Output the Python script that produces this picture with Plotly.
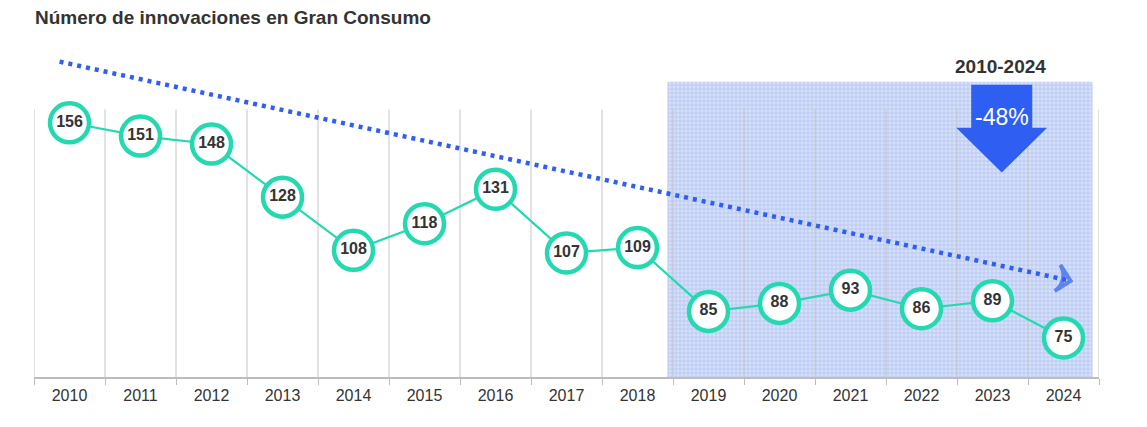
import plotly.graph_objects as go

# data
years = [2010, 2011, 2012, 2013, 2014, 2015, 2016, 2017, 2018, 2019, 2020, 2021, 2022, 2023, 2024]
innovations = [156, 151, 148, 128, 108, 118, 131, 107, 109, 85, 88, 93, 86, 89, 75]
trend_x = [2009.86, 2024.1]
trend_y = [179, 96.5]
change_label = "-48%"
period_label = "2010-2024"

teal = "#24d9af"
blue = "#2f5ff2"
font = "Liberation Sans, Arial, sans-serif"
y_min, y_grid_top = 60.3, 161

fig = go.Figure()

# shaded recent period (textured band)
shade_x0, shade_x1, shade_top = 2018.42, 2024.41, 171.4
fig.add_trace(go.Bar(
    x=[(shade_x0 + shade_x1) / 2], y=[shade_top - y_min], base=[y_min],
    width=[shade_x1 - shade_x0],
    marker=dict(color="#d0dbf8", line=dict(width=0),
                pattern=dict(shape="+", fgcolor="#98aeee", bgcolor="#d6e0f9",
                             size=4, solidity=0.4, fillmode="overlay")),
    hoverinfo="skip",
))

# vertical separators between years
gx, gy = [], []
for b in [y - 0.5 for y in years] + [years[-1] + 0.5]:
    gx += [b, b, None]
    gy += [y_min, y_grid_top, None]
fig.add_trace(go.Scatter(x=gx, y=gy, mode="lines", line=dict(color="#c6c6c6", width=1),
                         hoverinfo="skip"))

# trend line (dotted) with open arrowhead at the end
fig.add_trace(go.Scatter(
    x=trend_x, y=trend_y, mode="lines+markers",
    line=dict(color=blue, width=4.5, dash="4px,5px"),
    marker=dict(symbol="arrow-wide-open", size=[0, 19], angleref="previous",
                color=blue, line=dict(color=blue, width=4)),
    hoverinfo="skip", cliponaxis=False,
))

fig.add_trace(go.Scatter(
    x=years, y=innovations, mode="lines+markers+text",
    text=[str(v) for v in innovations], textposition="middle center",
    textfont=dict(family=font, size=16, color="#333333", weight="bold"),
    line=dict(color=teal, width=2.2),
    marker=dict(size=39, color="white", line=dict(color=teal, width=4.5)),
    cliponaxis=False,
))

# big down arrow
ax, hw, sw = 2023.13, 0.64, 0.43
y_top, y_head, y_tip = 170.3, 154.1, 137.3
path = (f"M {ax - sw} {y_top} L {ax + sw} {y_top} L {ax + sw} {y_head} "
        f"L {ax + hw} {y_head} L {ax} {y_tip} L {ax - hw} {y_head} "
        f"L {ax - sw} {y_head} Z")

fig.update_layout(
    width=1147, height=427,
    margin=dict(l=26, r=56, t=51, b=58),
    plot_bgcolor="white", paper_bgcolor="white",
    showlegend=False, barmode="overlay",
    font=dict(family=font, color="#333333"),
    title=dict(text="<b>Número de innovaciones en Gran Consumo</b>",
               xref="container", x=27 / 1147, xanchor="left",
               yref="container", y=1 - 9 / 427, yanchor="middle",
               font=dict(size=19, color="#333333")),
    shapes=[dict(type="path", xref="x", yref="y", path=path,
                 fillcolor=blue, line=dict(width=0))],
    annotations=[
        dict(x=ax, y=158.3, xref="x", yref="y", text=change_label, showarrow=False,
             font=dict(size=23, color="white")),
        dict(x=ax - 0.02, y=177.1, xref="x", yref="y", text=f"<b>{period_label}</b>",
             showarrow=False, font=dict(size=19, color="#333333")),
    ],
)

fig.update_xaxes(
    range=[2009.5, 2024.5], tickvals=years, ticktext=[str(y) for y in years],
    ticks="", showgrid=False, zeroline=False,
    showline=True, linecolor="#bdbdbd", linewidth=1.5,
    tickfont=dict(size=16, color="#333333"), ticklabelstandoff=3,
    minor=dict(tick0=2009.5, dtick=1, ticks="outside", ticklen=6,
               tickcolor="#bdbdbd", showgrid=False),
)
fig.update_yaxes(range=[y_min, 180], visible=False, showgrid=False, zeroline=False)

fig.write_html("out.html")
